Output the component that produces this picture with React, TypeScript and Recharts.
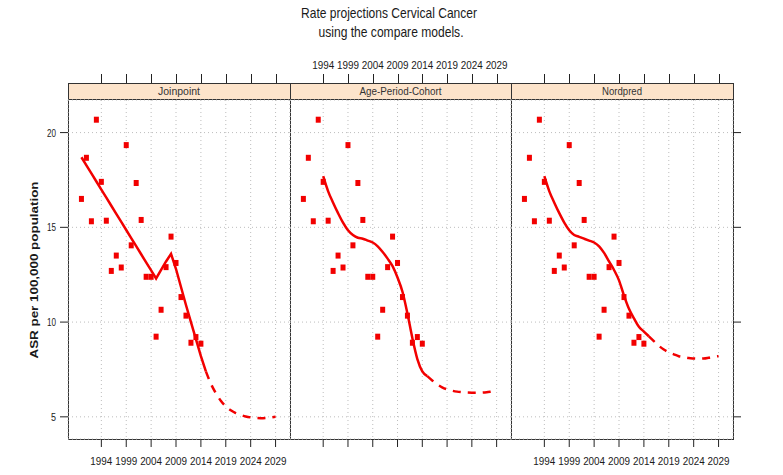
import React from 'react';
import { ComposedChart, XAxis, YAxis, CartesianGrid, Line, Scatter } from 'recharts';

// observed rates (same points in every panel)
const OBS_YEARS = [1990, 1991, 1992, 1993, 1994, 1995, 1996, 1997, 1998, 1999, 2000, 2001, 2002, 2003, 2004, 2005, 2006, 2007, 2008, 2009, 2010, 2011, 2012, 2013, 2014];
const OBSERVED = [16.5, 18.67, 15.32, 20.68, 17.4, 15.35, 12.7, 13.51, 12.88, 19.34, 14.05, 17.34, 15.39, 12.39, 12.39, 9.23, 10.65, 12.9, 14.51, 13.12, 11.32, 10.34, 8.91, 9.21, 8.86];

// Joinpoint
const JP_FIT_YEARS = [1990, 1991, 1992, 1993, 1994, 1995, 1996, 1997, 1998, 1999, 2000, 2001, 2002, 2003, 2004, 2005, 2006, 2007, 2008, 2009, 2010, 2011, 2012, 2013, 2014, 2015];
const JP_FIT = [18.7, 18.27, 17.85, 17.42, 16.99, 16.57, 16.14, 15.71, 15.29, 14.86, 14.43, 14.01, 13.58, 13.15, 12.73, 12.3, 12.75, 13.2, 13.6, 12.8, 11.85, 10.9, 10.0, 9.1, 8.2, 7.4];

// Age-Period-Cohort / Nordpred fitted years
const MODEL_FIT_YEARS = [1994, 1995, 1996, 1997, 1998, 1999, 2000, 2001, 2002, 2003, 2004, 2005, 2006, 2007, 2008, 2009, 2010, 2011, 2012, 2013, 2014, 2015];
const APC_FIT = [17.7, 16.9, 16.3, 15.75, 15.25, 14.85, 14.6, 14.45, 14.4, 14.3, 14.2, 14.0, 13.7, 13.35, 12.95, 12.35, 11.6, 10.45, 9.15, 8.05, 7.4, 7.15];
const NP_FIT = [17.7, 16.9, 16.3, 15.75, 15.25, 14.85, 14.6, 14.5, 14.4, 14.3, 14.2, 14.0, 13.65, 13.2, 12.75, 12.2, 11.4, 10.7, 10.2, 9.75, 9.5, 9.25];

// projections
const PROJ_YEARS = [2015, 2016, 2017, 2018, 2019, 2020, 2021, 2022, 2023, 2024, 2025, 2026, 2027, 2028, 2029];
const JP_PROJ = [7.4, 6.75, 6.25, 5.85, 5.55, 5.35, 5.2, 5.1, 5.02, 4.97, 4.94, 4.93, 4.94, 4.97, 5.0];
const APC_PROJ = [7.15, 6.92, 6.72, 6.56, 6.45, 6.38, 6.33, 6.3, 6.28, 6.27, 6.27, 6.28, 6.3, 6.33, 6.36];
const NP_PROJ = [9.25, 9.0, 8.75, 8.55, 8.4, 8.3, 8.2, 8.15, 8.1, 8.08, 8.07, 8.08, 8.12, 8.17, 8.2];

const X_TICKS = [1994, 1999, 2004, 2009, 2014, 2019, 2024, 2029];
const Y_TICKS = [5, 10, 15, 20];

const toRows = (years: number[], vals: number[]) => years.map((year, i) => ({ year, value: vals[i] }));

const obsRows = toRows(OBS_YEARS, OBSERVED);

const panels = [
  { name: 'Joinpoint', nameW: 42, fit: toRows(JP_FIT_YEARS, JP_FIT), proj: toRows(PROJ_YEARS, JP_PROJ), curve: 'linear', left: 68, right: 290 },
  { name: 'Age-Period-Cohort', nameW: 82, fit: toRows(MODEL_FIT_YEARS, APC_FIT), proj: toRows(PROJ_YEARS, APC_PROJ), curve: 'monotone', left: 290, right: 511 },
  { name: 'Nordpred', nameW: 40, fit: toRows(MODEL_FIT_YEARS, NP_FIT), proj: toRows(PROJ_YEARS, NP_PROJ), curve: 'monotone', left: 511, right: 733 },
];

const W = 783;
const H = 475;
const TOP = 100;
const BOTTOM = 439;
const STRIP = 17;
const X_DOMAIN = [1987.3, 2031.9];
const Y_DOMAIN = [3.83, 21.72];
const RED = '#f20000';
const INK = '#1a1a1a';
const FONT = '"Liberation Sans", Arial, sans-serif';

// narrow lattice-style labels: squeeze to the measured width
const Narrow = ({ x, y, w, size = 11, anchor = 'middle', children, ...rest }: any) => (
  <text x={x} y={y} fontSize={size} fill={INK} fontFamily={FONT} textAnchor={anchor}
    textLength={w} lengthAdjust="spacingAndGlyphs" {...rest}>{children}</text>
);

const Square = (p: any) => <rect x={p.cx - 2.5} y={p.cy - 3} width={5} height={6} fill={RED} />;

// tick position above the strip (same linear mapping as the panel's x axis)
const tickX = (p: any, yr: number) => p.left + ((yr - X_DOMAIN[0]) / (X_DOMAIN[1] - X_DOMAIN[0])) * (p.right - p.left);

const App = () => {
  return (
    <div style={{ position: 'absolute', left: 0, top: 0, width: W, height: H, background: '#fff', fontFamily: FONT }}>
      {panels.map((p, i) => (
        <div key={'strip' + i} style={{
          position: 'absolute', left: p.left, top: TOP - STRIP, width: p.right - p.left, height: STRIP,
          background: '#fde4cb',
        }} />
      ))}
      <div style={{ position: 'absolute', left: 68, top: TOP - STRIP, width: 733 - 68 + 1, height: BOTTOM - TOP + STRIP + 1, boxSizing: 'border-box', border: '1px solid #333' }} />
      <div style={{ position: 'absolute', left: 68, top: TOP - 1, width: 733 - 68, height: 1, background: '#333' }} />
      <div style={{ position: 'absolute', left: 290, top: TOP - STRIP, width: 1, height: BOTTOM - TOP + STRIP, background: '#333' }} />
      <div style={{ position: 'absolute', left: 511, top: TOP - STRIP, width: 1, height: BOTTOM - TOP + STRIP, background: '#333' }} />

      {panels.map((p, i) => (
        <div key={i} style={{ position: 'absolute', left: 0, top: 0 }}>
          <ComposedChart
            width={W}
            height={H}
            margin={{
              top: TOP - 1,
              bottom: H - BOTTOM - 1,
              left: i === 0 ? p.left - 1 : p.left,
              right: i === 2 ? W - p.right - 1 : W - p.right,
            }}
          >
            <CartesianGrid stroke="#bdbdbd" strokeDasharray="1 3" />
            <XAxis
              dataKey="year" type="number" domain={X_DOMAIN} ticks={X_TICKS} height={1}
              axisLine={false} tickSize={8} tickMargin={4} stroke="#222" interval={0}
              tick={(t: any) => i !== 1 ? (
                <Narrow x={t.x} y={BOTTOM + 26} w={22}>{t.payload.value}</Narrow>
              ) : <g />}
            />
            <XAxis
              xAxisId="top" dataKey="year" type="number" orientation="top" domain={X_DOMAIN} ticks={X_TICKS} height={1}
              axisLine={false} tickLine={false} tickSize={0} tickMargin={0} interval={0}
              tick={(t: any) => i === 1 ? (
                <Narrow x={t.x} y={TOP - STRIP - 14} w={22}>{t.payload.value}</Narrow>
              ) : <g />}
            />
            <YAxis
              type="number" domain={Y_DOMAIN} ticks={Y_TICKS} width={1} axisLine={false}
              orientation={i === 2 ? 'right' : 'left'} hide={i === 1}
              tickSize={8} tickMargin={4} stroke="#222" interval={0}
              tick={(t: any) => i === 0 ? (
                <Narrow x={t.x} y={t.y} dy={4} anchor="end" w={t.payload.value < 10 ? 5 : 9}>{t.payload.value}</Narrow>
              ) : <g />}
            />
            <Scatter data={obsRows} dataKey="value" shape={Square} isAnimationActive={false} />
            <Line xAxisId="top" data={p.fit} dataKey="value" type={p.curve as any} stroke={RED} strokeWidth={2.5} dot={false} isAnimationActive={false} />
            <Line xAxisId="top" data={p.proj} dataKey="value" type="monotone" stroke={RED} strokeWidth={2.5} strokeDasharray="8 7" dot={false} isAnimationActive={false} />
          </ComposedChart>
        </div>
      ))}

      <svg width={W} height={H} style={{ position: 'absolute', left: 0, top: 0 }}>
        <Narrow x={389} y={18} w={176} size={15}>Rate projections Cervical Cancer</Narrow>
        <Narrow x={391} y={37} w={145} size={15}>using the compare models.</Narrow>
        {panels.map((p, i) => (
          <Narrow key={i} x={(p.left + p.right) / 2} y={TOP - 5} w={p.nameW} size={11.5} fill="#333">{p.name}</Narrow>
        ))}
        <Narrow x={0} y={0} w={177} size={11} fontWeight="bold" transform="translate(38,270) rotate(-90)">ASR per 100,000 population</Narrow>
      </svg>

      {panels.flatMap((p, i) => X_TICKS.map((yr) => (
        <div key={'tt' + i + '-' + yr} style={{
          position: 'absolute', left: Math.round(tickX(p, yr)), top: TOP - STRIP - 9, width: 1, height: 9, background: '#222',
        }} />
      )))}
    </div>
  );
};

export default App;
